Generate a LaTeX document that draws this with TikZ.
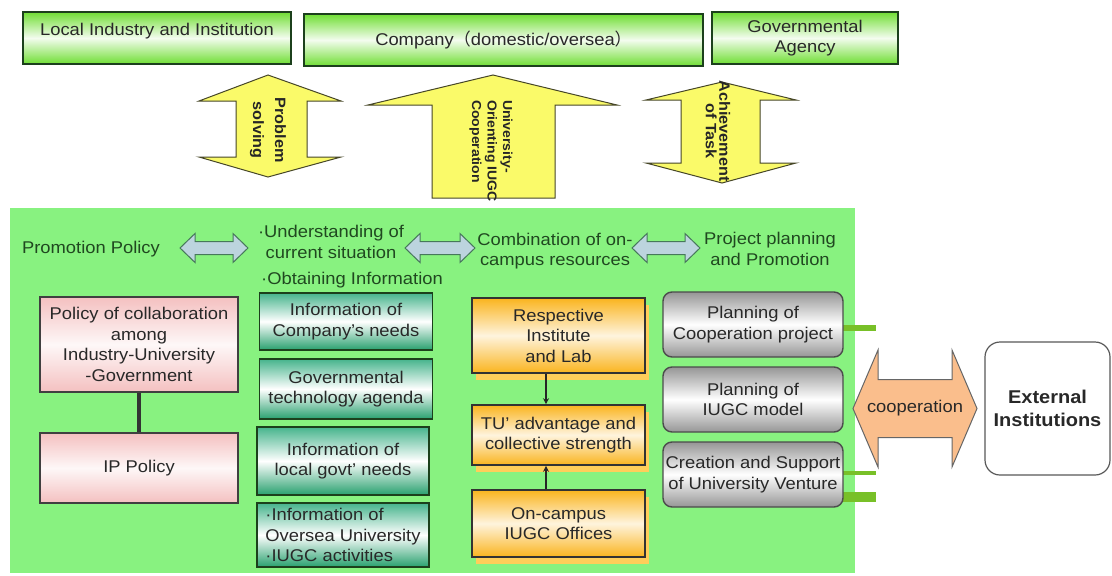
\documentclass[tikz,border=0pt]{standalone}
\usepackage{fontspec}
\setmainfont{Liberation Sans}[FakeStretch=1.08]
\newfontfamily\cjk{Noto Sans CJK SC}
\usetikzlibrary{shadows,arrows.meta}

\definecolor{bggreen}{RGB}{136,242,128}
\definecolor{boxgreen}{RGB}{112,222,52}
\definecolor{edgegreen}{RGB}{28,64,28}
\definecolor{arrowyellow}{RGB}{250,250,105}
\definecolor{arrowedge}{RGB}{70,70,40}
\definecolor{labelgreen}{RGB}{32,72,32}
\definecolor{inkgray}{RGB}{40,40,40}
\definecolor{pinkshade}{RGB}{244,192,192}
\definecolor{tealtop}{RGB}{70,180,140}
\definecolor{tealbottom}{RGB}{40,160,110}
\definecolor{orangeshade}{RGB}{250,180,30}
\definecolor{orangeglow}{RGB}{255,206,90}
\definecolor{grayshade}{RGB}{150,150,150}
\definecolor{stubgreen}{RGB}{120,192,40}
\definecolor{bluefill}{RGB}{188,212,222}
\definecolor{blueedge}{RGB}{70,120,90}
\definecolor{peach}{RGB}{250,190,140}

\newcommand{\mainsize}{\fontsize{17}{20.5}\selectfont}

% horizontal double-headed block arrow:
% style, x1, x2, y, half shaft, half head, head length
\newcommand{\hdblarrow}[7]{%
  \path[#1] (#2,#4) -- ({#2+#7},{#4-#6}) -- ({#2+#7},{#4-#5}) -- ({#3-#7},{#4-#5})
    -- ({#3-#7},{#4-#6}) -- (#3,#4) -- ({#3-#7},{#4+#6}) -- ({#3-#7},{#4+#5})
    -- ({#2+#7},{#4+#5}) -- ({#2+#7},{#4+#6}) -- cycle;}

\begin{document}
\begin{tikzpicture}[x=1pt,y=-1pt,
  topbox/.style={draw=edgegreen, line width=1.6pt, top color=boxgreen, bottom color=boxgreen,
    middle color=white!92!boxgreen, inner sep=0pt, font=\mainsize, text=inkgray, align=center},
  pinkbox/.style={draw=black!75, line width=1.6pt, top color=pinkshade, bottom color=pinkshade,
    middle color=white!88!pinkshade, inner sep=0pt, font=\mainsize, text=inkgray, align=center},
  tealbox/.style={draw=edgegreen, line width=1.6pt, top color=tealtop, bottom color=tealbottom,
    middle color=white, inner sep=0pt, font=\mainsize, text=inkgray, align=center, minimum width=173},
  orangebox/.style={draw=black!80, line width=1.6pt, top color=orangeshade, bottom color=orangeshade,
    middle color=white!85!orangeshade, inner sep=0pt, font=\mainsize, text=inkgray, align=center,
    minimum width=173, drop shadow={shadow xshift=4pt, shadow yshift=-7pt, fill=orangeglow, opacity=1}},
  graybox/.style={draw=black!70, line width=1.4pt, rounded corners=9pt, top color=grayshade,
    bottom color=grayshade, middle color=white, inner sep=0pt, font=\mainsize, text=inkgray,
    align=center, minimum width=180, minimum height=65},
  yarrow/.style={fill=arrowyellow, draw=arrowedge, line width=1pt},
  bluearr/.style={fill=bluefill, draw=blueedge, line width=1pt},
  peacharr/.style={fill=peach, draw=black!60, line width=1pt},
  vlabel/.style={rotate=-90, align=center, inner sep=0pt, text=black!85},
  lbl/.style={text=labelgreen, font=\mainsize, align=center, inner sep=0pt},
  link/.style={line width=1.3pt, draw=black!85, -{Stealth[length=6pt,width=6pt]}}]

\useasboundingbox (0,0) rectangle (1112,576);
\fill[white] (0,0) rectangle (1112,576);

% partners at the top
\node[topbox, minimum width=268, minimum height=52, text depth=17pt] (local) at (157,38)
  {Local Industry and Institution};
\node[topbox, minimum width=399, minimum height=52] (company) at (503.5,40)
  {Company{\cjk（}domestic/oversea{\cjk）}};
\node[topbox, minimum width=186, minimum height=52] (gov) at (805,38)
  {Governmental\\Agency};

% block arrows between partners and the university
\path[yarrow] (199,101) -- (268,75) -- (341,101) -- (307,101) -- (307,157) -- (341,157)
  -- (268,177) -- (199,157) -- (236,157) -- (236,101) -- cycle;
\node[vlabel, font=\bfseries\fontsize{15}{22}\selectfont] (solve) at (268,130) {Problem\\solving};

\path[yarrow] (368,105) -- (493,75) -- (617,105) -- (555,105) -- (555,198) -- (432,198)
  -- (432,105) -- cycle;
\node[vlabel, align=left, anchor=west, font=\bfseries\fontsize{13}{15.5}\selectfont] (iugc)
  at (491,100) {University-\\Orienting IUGC\\Cooperation};

\path[yarrow] (646,100) -- (722,82) -- (796,100) -- (760,100) -- (760,163) -- (796,163)
  -- (722,183) -- (646,163) -- (681,163) -- (681,100) -- cycle;
\node[vlabel, font=\bfseries\fontsize{15}{13.5}\selectfont] (task) at (718,131)
  {Achievement\\of Task};

% university area
\fill[bggreen] (10,208) rectangle (855,573);

\node[lbl] (promo) at (91,249) {Promotion Policy};
\node[lbl] (situ) at (331,242) {·Understanding of\\current situation};
\node[lbl] (obtain) at (352,280) {·Obtaining Information};
\node[lbl] (combo) at (555,251) {Combination of on-\\campus resources};
\node[lbl] (plan) at (770,249) {Project planning\\and Promotion};

\hdblarrow{bluearr}{180}{248}{248}{6.5}{14.5}{15}
\hdblarrow{bluearr}{405}{475}{248}{6.5}{14.5}{15}
\hdblarrow{bluearr}{632}{700}{248}{6.5}{14.5}{15}

% policy column
\node[pinkbox, minimum width=198, minimum height=95] (pol) at (139,344.5)
  {Policy of collaboration\\among\\Industry-University\\-Government};
\node[pinkbox, minimum width=198, minimum height=70] (ip) at (139,468) {IP Policy};
\draw[line width=3.5pt, draw=black!80] (pol.south) -- (ip.north);

% information column
\node[tealbox, minimum height=57] (info1) at (346,321.5) {Information of\\Company’s needs};
\node[tealbox, minimum height=60] (info2) at (346,389) {Governmental\\technology agenda};
\node[tealbox, minimum height=68, minimum width=172] (info3) at (343,461) {Information of\\local govt’ needs};
\node[tealbox, minimum height=64, minimum width=172, align=left] (info4) at (343,535)
  {·Information of\\Oversea University\\·IUGC activities};

% on-campus resources column
\node[orangebox, minimum height=75] (res1) at (558.5,335.5) {Respective\\Institute\\and Lab};
\node[orangebox, minimum height=60] (res2) at (558.5,435) {TU' advantage and\\collective strength};
\node[orangebox, minimum height=67] (res3) at (558.5,523.5) {On-campus\\IUGC Offices};
\draw[link] ([xshift=-12.5pt]res1.south) -- ([xshift=-12.5pt]res2.north);
\draw[link] ([xshift=-12.5pt]res3.north) -- ([xshift=-12.5pt]res2.south);

% project column
\fill[stubgreen] (843,325) rectangle (876,331);
\fill[stubgreen] (843,471) rectangle (876,475);
\fill[stubgreen] (843,492) rectangle (876,502);
\node[graybox] (proj1) at (753,324.5) {Planning of\\Cooperation project};
\node[graybox] (proj2) at (753,399.5) {Planning of\\IUGC model};
\node[graybox] (proj3) at (753,474.5) {Creation and Support\\of University Venture};

% cooperation with external institutions
\hdblarrow{peacharr}{853}{977}{408.5}{29}{58.5}{25}
\node[font=\mainsize, text=inkgray, inner sep=0pt] (coop) at (915,408.5) {cooperation};
\node[draw=black!65, line width=1.2pt, rounded corners=15pt, minimum width=125,
  minimum height=133, fill=white, align=center, inner sep=0pt,
  font=\bfseries\fontsize{18.5}{23}\selectfont, text=inkgray] (ext) at (1047.5,408.5)
  {External\\Institutions};
\end{tikzpicture}
\end{document}
